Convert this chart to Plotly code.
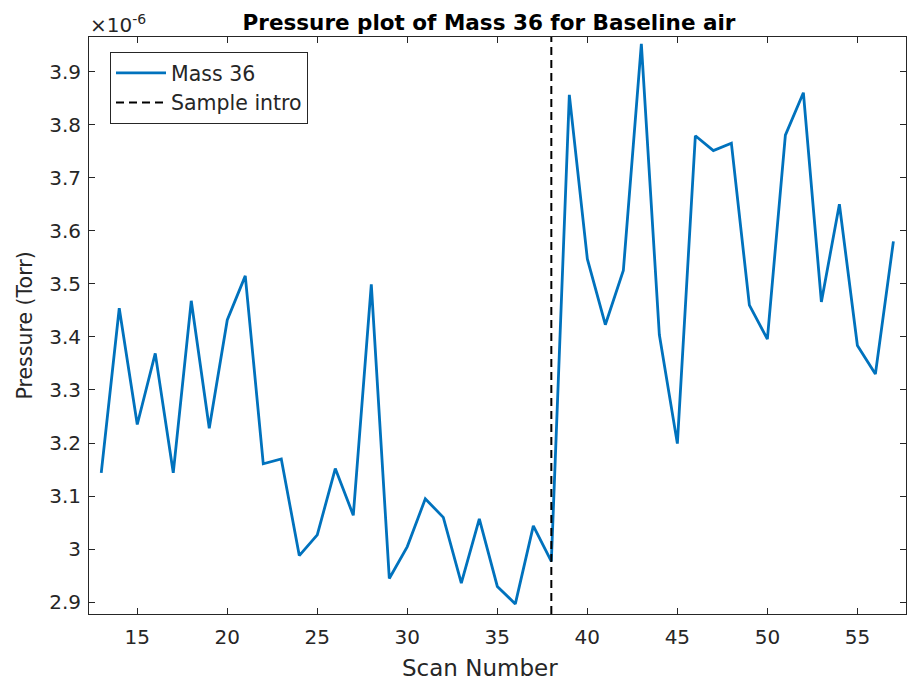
import numpy as np
import plotly.graph_objects as go

# Data (pressure in units of 1e-6 Torr)
scan = list(range(13, 58))
mass36_e6 = [3.144, 3.454, 3.235, 3.369, 3.144, 3.468, 3.228, 3.432, 3.515,
             3.161, 3.170, 2.988, 3.027, 3.152, 3.064, 3.499, 2.945, 3.005,
             3.095, 3.060, 2.936, 3.057, 2.930, 2.897, 3.044, 2.977,
             3.856, 3.547, 3.423, 3.525, 3.952, 3.404, 3.199, 3.779, 3.751,
             3.765, 3.460, 3.396, 3.780, 3.860, 3.466, 3.650, 3.384, 3.330, 3.580]
sample_intro_scan = 38
scale = 1e-6
mass36 = [v * scale for v in mass36_e6]

ytick_e6 = [2.9, 3.0, 3.1, 3.2, 3.3, 3.4, 3.5, 3.6, 3.7, 3.8, 3.9]
ytick_text = ["2.9", "3", "3.1", "3.2", "3.3", "3.4", "3.5", "3.6", "3.7", "3.8", "3.9"]
xtick_vals = [15, 20, 25, 30, 35, 40, 45, 50, 55]

x_range = [12.32, 57.70]
y_range = [2.878 * scale, 3.965 * scale]

FONT = "DejaVu Sans, Arial, sans-serif"
AX = "#262626"
W, H = 908, 686
ML, MR, MT, MB = 89, 2, 37, 72

fig = go.Figure()
fig.add_trace(go.Scatter(x=scan, y=mass36, mode="lines", name="Mass 36",
                         line=dict(color="#0072BD", width=2.8)))
fig.add_trace(go.Scatter(x=[sample_intro_scan, sample_intro_scan], y=y_range,
                         mode="lines", name="Sample intro",
                         line=dict(color="#000000", width=2, dash="8px,5px")))

fig.update_layout(
    width=W, height=H,
    margin=dict(l=ML, r=MR, t=MT, b=MB),
    paper_bgcolor="white", plot_bgcolor="white",
    font=dict(family=FONT, color=AX, size=20),
    title=dict(text="<b>Pressure plot of Mass 36 for Baseline air</b>",
               x=489 / W, xanchor="center",
               y=1 - 22 / H, yanchor="middle", yref="container",
               font=dict(size=21.5, color="#000000", family=FONT)),
    showlegend=True,
    legend=dict(x=(110 - ML) / (W - ML - MR), y=1 - 15 / (H - MT - MB),
                xanchor="left", yanchor="top",
                bgcolor="white", bordercolor=AX, borderwidth=1,
                font=dict(size=20.5, color=AX, family=FONT),
                itemwidth=50, tracegroupgap=0),
)
fig.update_xaxes(range=x_range, tickvals=xtick_vals, ticks="inside", ticklen=6,
                 tickcolor=AX, showline=True, linecolor=AX, linewidth=1,
                 mirror="allticks", showgrid=False, zeroline=False,
                 ticklabelstandoff=5,
                 tickfont=dict(size=20, color=AX, family=FONT))
fig.update_yaxes(range=y_range, tickvals=[v * scale for v in ytick_e6], ticktext=ytick_text,
                 ticks="inside", ticklen=6, tickcolor=AX, showline=True, linecolor=AX,
                 linewidth=1, mirror="allticks", showgrid=False, zeroline=False,
                 ticklabelstandoff=3,
                 tickfont=dict(size=20, color=AX, family=FONT))
# axis titles
fig.add_annotation(text="Scan Number", xref="paper", yref="paper",
                   x=(480 - ML) / (W - ML - MR), y=-(668 - (H - MB)) / (H - MT - MB),
                   xanchor="center", yanchor="middle", showarrow=False,
                   font=dict(size=23, color=AX, family=FONT))
fig.add_annotation(text="Pressure (Torr)", xref="paper", yref="paper", textangle=-90,
                   x=-(ML - 24) / (W - ML - MR), y=0.5,
                   xanchor="center", yanchor="middle", showarrow=False,
                   font=dict(size=20.5, color=AX, family=FONT))
# exponent label
fig.add_annotation(text="×10<sup>-6</sup>", xref="paper", yref="paper",
                   x=0, y=1, xanchor="left", yanchor="bottom", showarrow=False,
                   xshift=-1, yshift=-2, font=dict(size=20, color=AX, family=FONT))

fig.write_html("out.html")
